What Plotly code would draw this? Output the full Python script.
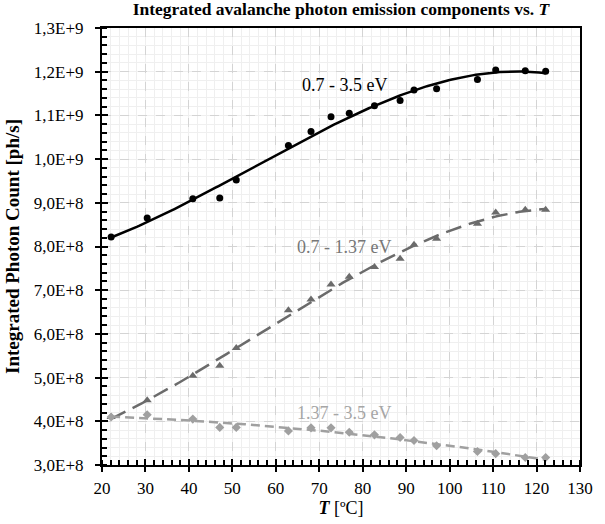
import numpy as np
import plotly.graph_objects as go

# Data
temps = [22.1, 30.4, 40.9, 47.1, 50.9, 62.9, 68.1, 72.7, 76.9, 82.7, 88.6, 91.8, 97.0, 106.4, 110.6, 117.4, 122.1]
total_3p5 = [8.22e8, 8.65e8, 9.09e8, 9.11e8, 9.52e8, 1.031e9, 1.063e9, 1.097e9, 1.105e9, 1.122e9, 1.134e9,
             1.158e9, 1.161e9, 1.182e9, 1.204e9, 1.202e9, 1.201e9]
low_1p37 = [4.10e8, 4.48e8, 5.04e8, 5.27e8, 5.68e8, 6.54e8, 6.79e8, 7.13e8, 7.31e8, 7.53e8, 7.72e8,
            8.04e8, 8.18e8, 8.52e8, 8.78e8, 8.84e8, 8.84e8]
high_1p37 = [4.10e8, 4.15e8, 4.05e8, 3.86e8, 3.86e8, 3.78e8, 3.85e8, 3.85e8, 3.75e8, 3.69e8, 3.63e8,
             3.56e8, 3.44e8, 3.31e8, 3.26e8, 3.17e8, 3.17e8]

xticks = [20, 30, 40, 50, 60, 70, 80, 90, 100, 110, 120, 130]
yticks = [3e8, 4e8, 5e8, 6e8, 7e8, 8e8, 9e8, 1.0e9, 1.1e9, 1.2e9, 1.3e9]
xrange_ = [20, 130]
yrange_ = [3e8, 1.3e9]


def sci_comma(v):
    e = int(np.floor(np.log10(v)))
    return f"{v / 10**e:.1f}".replace(".", ",") + f"E+{e}"


ytext = [sci_comma(v) for v in yticks]

FONT = "Liberation Serif"
C_BLACK = "#000000"
C_MID = "#6b6b6b"
C_LIGHT = "#a0a0a0"

t = np.array(temps)
tfit = np.linspace(t.min(), t.max(), 200)


def fit(y, deg):
    c = np.polyfit(t, np.array(y), deg)
    return np.polyval(c, tfit)


fig = go.Figure()

# trendlines
fig.add_trace(go.Scatter(x=tfit, y=fit(total_3p5, 3), mode="lines",
                         line=dict(color=C_BLACK, width=2.5), showlegend=False, hoverinfo="skip"))
fig.add_trace(go.Scatter(x=tfit, y=fit(low_1p37, 3), mode="lines",
                         line=dict(color=C_MID, width=2.5, dash="16px,8px"), showlegend=False, hoverinfo="skip"))
fig.add_trace(go.Scatter(x=tfit, y=fit(high_1p37, 2), mode="lines",
                         line=dict(color=C_LIGHT, width=2.5, dash="9px,5px"), showlegend=False, hoverinfo="skip"))

# markers
fig.add_trace(go.Scatter(x=temps, y=total_3p5, mode="markers",
                         marker=dict(color=C_BLACK, size=7, symbol="circle"), showlegend=False))
fig.add_trace(go.Scatter(x=temps, y=low_1p37, mode="markers",
                         marker=dict(color=C_MID, size=8, symbol="triangle-up"), showlegend=False))
fig.add_trace(go.Scatter(x=temps, y=high_1p37, mode="markers",
                         marker=dict(color=C_LIGHT, size=7, symbol="diamond"), showlegend=False))

# invisible trace on overlay axes (inner half of major ticks)
fig.add_trace(go.Scatter(x=[xrange_[0]], y=[yrange_[0]], xaxis="x2", yaxis="y2", mode="markers",
                         marker=dict(opacity=0), showlegend=False, hoverinfo="skip"))

# series labels
fig.add_annotation(x=75.8, y=1.169e9, text="0.7 - 3.5 eV", showarrow=False,
                   font=dict(family=FONT, size=18, color=C_BLACK))
fig.add_annotation(x=75.8, y=8.0e8, text="0.7 - 1.37 eV", showarrow=False,
                   font=dict(family=FONT, size=18, color="#777777"))
fig.add_annotation(x=75.8, y=4.2e8, text="1.37 - 3.5 eV", showarrow=False,
                   font=dict(family=FONT, size=18, color="#a6a6a6"))

fig.update_layout(
    width=605, height=524,
    margin=dict(l=102, r=14, t=28, b=53),
    paper_bgcolor="white", plot_bgcolor="white",
    font=dict(family=FONT, size=17, color="black"),
    title=dict(text="<b>Integrated avalanche photon emission components vs. <i>T</i></b>",
               xref="paper", x=0.5, xanchor="center", yref="container", y=0.995, yanchor="top",
               font=dict(family=FONT, size=17.5, color="black")),
    xaxis=dict(
        range=xrange_, tickvals=xticks, ticktext=[str(v) for v in xticks],
        showline=True, linecolor="black", linewidth=2, mirror=True,
        ticks="outside", ticklen=5, tickwidth=2, tickcolor="black",
        showgrid=True, gridcolor="#d4d4d4", griddash="dash", gridwidth=1,
        zeroline=False, ticklabelstandoff=2,
        minor=dict(dtick=2, tick0=20, ticks="inside", ticklen=5, tickwidth=1.5, tickcolor="black",
                   showgrid=True, gridcolor="#efefef", griddash="solid", gridwidth=1),
        title=dict(text="<b><i>T</i></b> [ºC]", font=dict(family=FONT, size=18), standoff=1),
        tickfont=dict(family=FONT, size=17),
    ),
    yaxis=dict(
        range=yrange_, tickvals=yticks, ticktext=ytext,
        showline=True, linecolor="black", linewidth=2, mirror=True,
        ticks="outside", ticklen=5, tickwidth=2, tickcolor="black",
        showgrid=True, gridcolor="#d4d4d4", griddash="dash", gridwidth=1,
        zeroline=False, ticklabelstandoff=8,
        minor=dict(dtick=2e7, tick0=3e8, ticks="inside", ticklen=5, tickwidth=1.5, tickcolor="black",
                   showgrid=True, gridcolor="#efefef", griddash="solid", gridwidth=1),
        title=dict(text="<b>Integrated Photon Count [ph/s]</b>", font=dict(family=FONT, size=19), standoff=9),
        tickfont=dict(family=FONT, size=17),
    ),
    xaxis2=dict(overlaying="x", anchor="y2", range=xrange_, tickvals=xticks, showticklabels=False,
                ticks="inside", ticklen=6, tickwidth=2, tickcolor="black",
                showgrid=False, zeroline=False, showline=False),
    yaxis2=dict(overlaying="y", anchor="x2", range=yrange_, tickvals=yticks, showticklabels=False,
                ticks="inside", ticklen=6, tickwidth=2, tickcolor="black",
                showgrid=False, zeroline=False, showline=False),
)

fig.write_html("out.html")
